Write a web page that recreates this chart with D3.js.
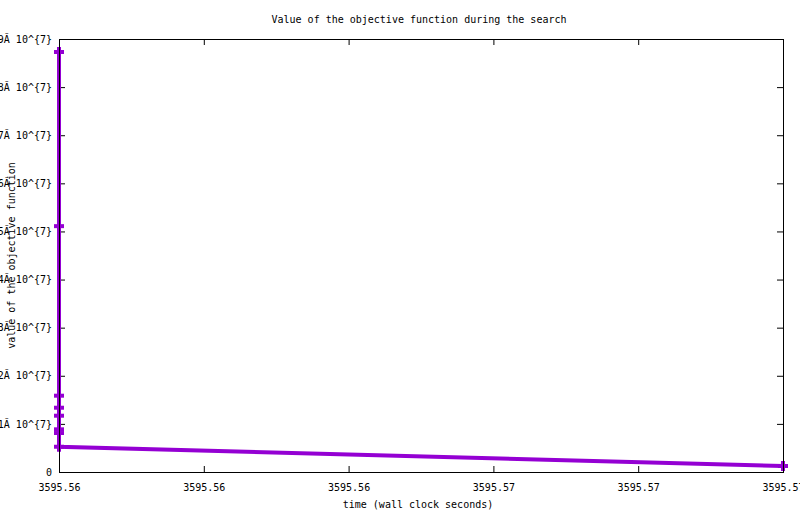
<!DOCTYPE html>
<html>
<head>
<meta charset="utf-8">
<script src="https://cdn.jsdelivr.net/npm/d3@7"></script>
<style>
  body { margin: 0; background: #fff; }
  svg text { font-family: "DejaVu Sans Mono", "Liberation Mono", monospace; font-size: 10px; fill: #000; }
</style>
</head>
<body>
<div id="chart"></div>
<script>
// search progress: wall clock time vs objective value
const times = [3595.560, 3595.560, 3595.560, 3595.560, 3595.560, 3595.560, 3595.560, 3595.560, 3595.570];
const values = [8.73e7, 5.11e7, 1.586e7, 1.336e7, 1.17e7, 0.887e7, 0.81e7, 0.525e7, 0.125e7];

const xTicks = [3595.560, 3595.562, 3595.564, 3595.566, 3595.568, 3595.570];
const yTicks = [0, 1e7, 2e7, 3e7, 4e7, 5e7, 6e7, 7e7, 8e7, 9e7];
const yTickLabels = ['0', '1Ă 10^{7}', '2Ă 10^{7}', '3Ă 10^{7}', '4Ă 10^{7}',
  '5Ă 10^{7}', '6Ă 10^{7}', '7Ă 10^{7}', '8Ă 10^{7}', '9Ă 10^{7}'];

const W = 800, H = 514;
const margin = { top: 39, right: 17, bottom: 42, left: 59 };
const COLOR = '#9400d3';
const TICK = 6;

const svg = d3.select('#chart').append('svg')
  .attr('width', W)
  .attr('height', H);

const x = d3.scaleLinear()
  .domain([xTicks[0], xTicks[xTicks.length - 1]])
  .range([margin.left, W - margin.right]);

const y = d3.scaleLinear()
  .domain([0, 9e7])
  .range([H - margin.bottom, margin.top]);

const data = times.map((t, i) => ({ t: t, v: values[i] }));

// bottom axis + mirrored top ticks
const xAxis = svg.append('g')
  .attr('transform', `translate(0,${H - margin.bottom})`)
  .call(d3.axisBottom(x).tickValues(xTicks).tickSize(-TICK).tickPadding(12)
    .tickFormat(d3.format('.2f')));
xAxis.select('.domain').remove();

const xTop = svg.append('g')
  .attr('transform', `translate(0,${margin.top})`)
  .call(d3.axisTop(x).tickValues(xTicks).tickSize(-TICK).tickFormat(''));
xTop.select('.domain').remove();

// left axis + mirrored right ticks
const yAxis = svg.append('g')
  .attr('transform', `translate(${margin.left},0)`)
  .call(d3.axisLeft(y).tickValues(yTicks).tickSize(-TICK).tickPadding(7)
    .tickFormat((d, i) => yTickLabels[i]));
yAxis.select('.domain').remove();

const yRight = svg.append('g')
  .attr('transform', `translate(${W - margin.right},0)`)
  .call(d3.axisRight(y).tickValues(yTicks).tickSize(-TICK).tickFormat(''));
yRight.select('.domain').remove();

svg.selectAll('.tick line').attr('stroke', '#000');
svg.selectAll('.tick text')
  .attr('font-family', null)
  .attr('font-size', null);

// the series
const line = d3.line().x(d => x(d.t)).y(d => y(d.v));

svg.append('path')
  .datum(data)
  .attr('fill', 'none')
  .attr('stroke', COLOR)
  .attr('stroke-width', 4)
  .attr('d', line);

// plus markers
const P = 5;
const marks = svg.append('g').selectAll('g')
  .data(data)
  .enter()
  .append('g')
  .attr('transform', d => `translate(${x(d.t)},${y(d.v)})`);
marks.append('line')
  .attr('x1', -P).attr('x2', P).attr('y1', 0).attr('y2', 0)
  .attr('stroke', COLOR).attr('stroke-width', 4);
marks.append('line')
  .attr('x1', 0).attr('x2', 0).attr('y1', -P).attr('y2', P)
  .attr('stroke', COLOR).attr('stroke-width', 4);

// border on top of the data, like gnuplot
svg.append('rect')
  .attr('x', margin.left + 0.5)
  .attr('y', margin.top + 0.5)
  .attr('width', W - margin.left - margin.right)
  .attr('height', H - margin.top - margin.bottom)
  .attr('fill', 'none')
  .attr('stroke', '#000')
  .attr('stroke-width', 1);

// titles
svg.append('text')
  .attr('x', 419)
  .attr('y', 23)
  .attr('text-anchor', 'middle')
  .text('Value of the objective function during the search');

svg.append('text')
  .attr('x', 418)
  .attr('y', 508)
  .attr('text-anchor', 'middle')
  .text('time (wall clock seconds)');

svg.append('text')
  .attr('transform', `translate(15,${(margin.top + H - margin.bottom) / 2}) rotate(-90)`)
  .attr('text-anchor', 'middle')
  .text('value of the objective function');
</script>
</body>
</html>
